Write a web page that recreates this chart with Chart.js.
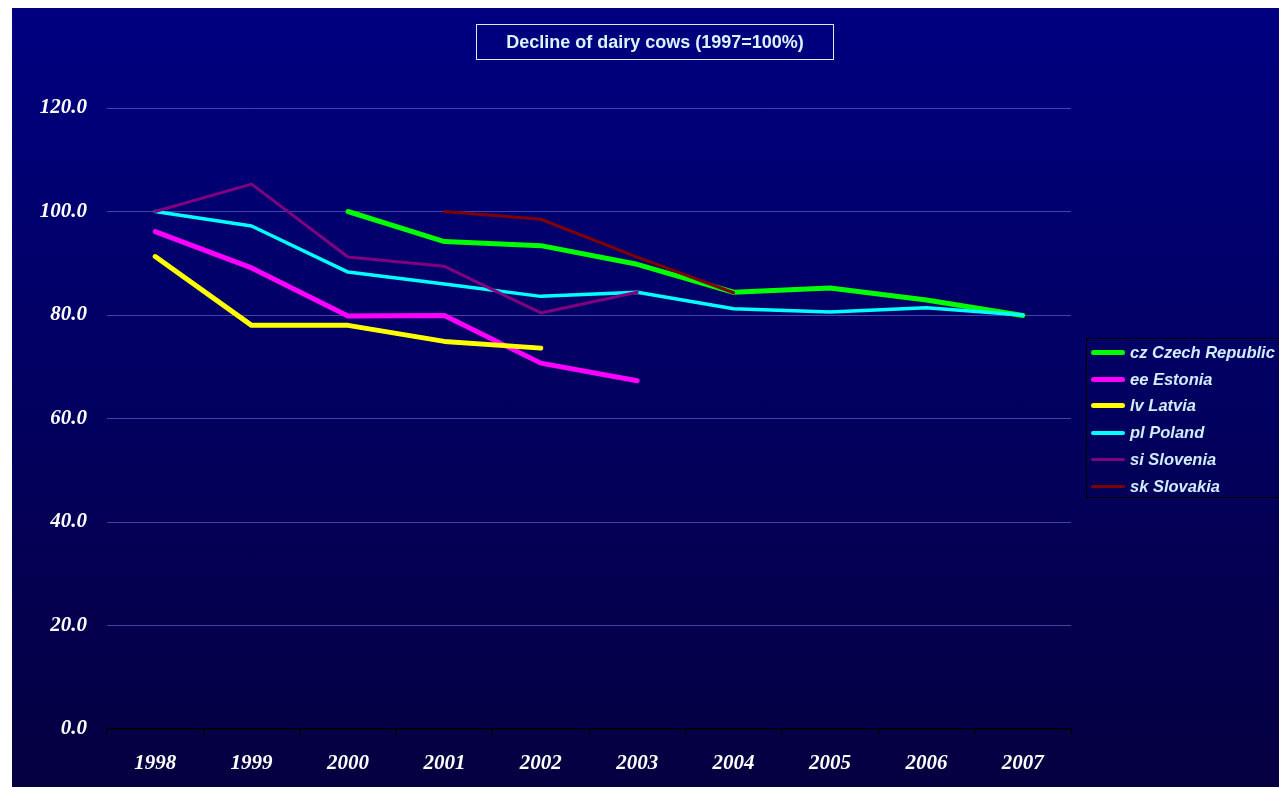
<!DOCTYPE html>
<html>
<head>
<meta charset="utf-8">
<script src="https://cdn.jsdelivr.net/npm/chart.js@4"></script>
<style>
  body { margin: 0; background: #fff; width: 1279px; height: 787px; overflow: hidden; }
  #frame {
    position: absolute; left: 12px; top: 8px; width: 1267px; height: 779px;
    background: linear-gradient(to bottom, #000080 0%, #020060 50%, #050040 100%);
    overflow: hidden;
  }
  #myChart { position: absolute; left: 0; top: 0; }
  #title {
    position: absolute; left: 464px; top: 16px; width: 356px; height: 34px;
    border: 1px solid #e0e8ff; color: #d8f4ff;
    font: bold 18px "Liberation Sans", Arial, sans-serif;
    line-height: 34px; text-align: center; white-space: nowrap;
  }
  #legend {
    position: absolute; left: 1074px; top: 330px; width: 220px; height: 158px;
    border: 1px solid #000;
  }
  .item { position: absolute; left: 0; height: 20px; white-space: nowrap; }
  .item span.swatch { position: absolute; left: 4px; top: 10px; width: 34px; border-radius: 3px; }
  .item span.text {
    position: absolute; left: 43px; top: 0; line-height: 20px;
    font: italic bold 16.5px "Liberation Sans", Arial, sans-serif; color: #d0ecff;
  }
</style>
</head>
<body>
<div id="frame">
  <canvas id="myChart" width="1267" height="779"></canvas>
  <div id="title">Decline of dairy cows (1997=100%)</div>
  <div id="legend"></div>
</div>
<script>
const years = ['1998', '1999', '2000', '2001', '2002', '2003', '2004', '2005', '2006', '2007'];
const yTicks = [0, 20, 40, 60, 80, 100, 120];

const czech = [null, null, 100, 94.2, 93.4, 89.8, 84.4, 85.2, 82.9, 79.9];
const estonia = [96.1, 89.1, 79.8, 79.9, 70.7, 67.3, null, null, null, null];
const latvia = [91.3, 78.0, 78.0, 74.9, 73.6, null, null, null, null, null];
const poland = [100, 97.2, 88.3, 86.0, 83.6, 84.4, 81.2, 80.6, 81.4, 80.0];
const slovenia = [100, 105.3, 91.2, 89.4, 80.4, 84.4, null, null, null, null];
const slovakia = [null, null, null, 100, 98.5, 91.2, 84.3, null, null, null];

const series = [
  { label: 'cz Czech Republic', data: czech, color: '#00ff00', width: 5 },
  { label: 'ee Estonia', data: estonia, color: '#ff00ff', width: 5 },
  { label: 'lv Latvia', data: latvia, color: '#ffff00', width: 5 },
  { label: 'pl Poland', data: poland, color: '#00ffff', width: 3.5 },
  { label: 'si Slovenia', data: slovenia, color: '#800080', width: 3 },
  { label: 'sk Slovakia', data: slovakia, color: '#800000', width: 3 }
];

const serif = 'Liberation Serif, "Times New Roman", serif';

const ctx = document.getElementById('myChart').getContext('2d');

const chart = new Chart(ctx, {
  type: 'line',
  data: {
    labels: years,
    datasets: series.map((s, i) => ({
      label: s.label,
      data: s.data,
      borderColor: s.color,
      backgroundColor: s.color,
      borderWidth: s.width,
      borderCapStyle: 'round',
      borderJoinStyle: 'round',
      pointRadius: 0,
      tension: 0,
      fill: false,
      spanGaps: false,
      order: series.length - i
    }))
  },
  options: {
    responsive: false,
    animation: false,
    layout: { padding: { top: 100, right: 208, left: 0, bottom: 0 } },
    plugins: {
      legend: { display: false },
      title: { display: false },
      tooltip: { enabled: false }
    },
    scales: {
      x: {
        offset: true,
        afterFit: scale => { scale.height = 58; },
        border: { display: true, color: '#000', width: 1.5 },
        grid: { offset: true, drawOnChartArea: false, drawTicks: true, tickLength: 6, color: '#000' },
        ticks: {
          color: '#fff',
          padding: 16,
          maxRotation: 0,
          font: { family: serif, size: 21, style: 'italic', weight: 'bold' }
        }
      },
      y: {
        min: 0,
        max: 120,
        afterFit: scale => { scale.width = 95; },
        afterBuildTicks: scale => { scale.ticks = yTicks.map(v => ({ value: v })); },
        border: { display: false },
        grid: {
          drawTicks: false,
          color: c => (c.tick && c.tick.value === 0 ? 'rgba(0,0,0,0)' : 'rgba(120,120,230,0.55)'),
          lineWidth: 1
        },
        ticks: {
          color: '#fff',
          padding: 20,
          callback: v => Number(v).toFixed(1),
          font: { family: serif, size: 21, style: 'italic', weight: 'bold' }
        }
      }
    }
  }
});

// HTML legend built from the chart's datasets
const legend = document.getElementById('legend');
chart.data.datasets.forEach((ds, i) => {
  const item = document.createElement('div');
  item.className = 'item';
  item.style.top = (4 + i * 26.7) + 'px';
  const sw = document.createElement('span');
  sw.className = 'swatch';
  sw.style.background = ds.borderColor;
  sw.style.height = Math.round(ds.borderWidth) + 'px';
  sw.style.marginTop = -Math.round(ds.borderWidth / 2) + 'px';
  const tx = document.createElement('span');
  tx.className = 'text';
  tx.textContent = ds.label;
  item.appendChild(sw);
  item.appendChild(tx);
  legend.appendChild(item);
});
</script>
</body>
</html>
